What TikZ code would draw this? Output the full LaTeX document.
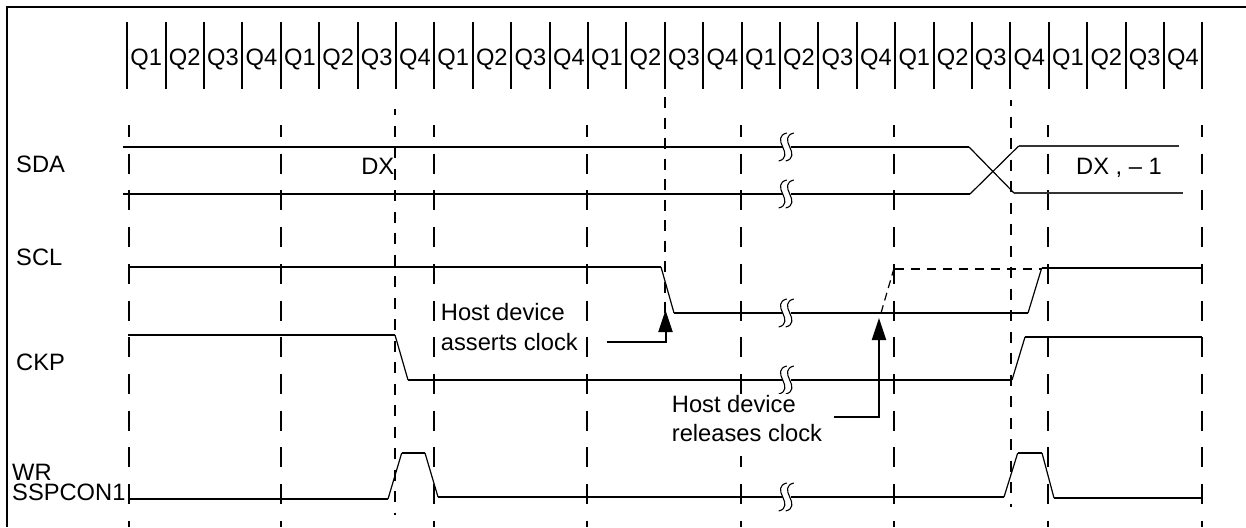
\documentclass[tikz,border=0pt]{standalone}
\usepackage{fontspec}
\setmainfont{Liberation Sans}
\usetikzlibrary{arrows.meta}
\tikzset{
  frameline/.style={line width=2pt},
  tick/.style={line width=1.9pt},
  sig/.style={line width=1.9pt,line join=miter},
  edge/.style={line width=1.2pt},
  thin sig/.style={line width=1.3pt,black!80},
  longdash/.style={line width=1.9pt,dash pattern=on 20pt off 16.7pt},
  shortdash/.style={line width=1.9pt,dash pattern=on 11pt off 10.5pt},
  lbl/.style={inner sep=0pt,anchor=base west,font=\fontsize{23.7}{23.7}\selectfont},
  qlbl/.style={inner sep=0pt,anchor=base,font=\fontsize{23.7}{23.7}\selectfont},
  callout/.style={line width=2pt,-{Triangle[length=22pt,width=14pt]}},
}
\newcommand{\brk}[2]{%
  \fill[white] (#1-4,#2-4) rectangle (#1+4,#2+4);
  \foreach \d in {-3.8,3.2}{
    \draw[line width=1.1pt] (#1+\d+4,#2-14) .. controls (#1+\d-4,#2-12) and (#1+\d-3,#2-6) .. (#1+\d,#2)
      .. controls (#1+\d+3,#2+6) and (#1+\d+4,#2+12) .. (#1+\d-4,#2+14);
  }}
\begin{document}
\begin{tikzpicture}[x=1pt,y=-1pt]
\useasboundingbox (0,0) rectangle (1246,527);
% frame (top and left only)
\draw[frameline] (1246,7) -- (7,7) -- (7,527);
% Q ticks
\foreach \x in {127,166,204,242,281,319,358,396,434,473,511,550,588,626,665,703,742,780,818,857,895,934,972,1010,1049,1087,1126,1164,1202}
  \draw[tick] (\x,22) -- (\x,88.5);
% Q labels
\node[qlbl] (q1)  at (146.2,65.7) {Q1};
\node[qlbl] (q2)  at (184.8,65.7) {Q2};
\node[qlbl] (q3)  at (223,65.7) {Q3};
\node[qlbl] (q4)  at (261.5,65.7) {Q4};
\node[qlbl] (q5)  at (300,65.7) {Q1};
\node[qlbl] (q6)  at (338.3,65.7) {Q2};
\node[qlbl] (q7)  at (376.8,65.7) {Q3};
\node[qlbl] (q8)  at (415,65.7) {Q4};
\node[qlbl] (q9)  at (453.3,65.7) {Q1};
\node[qlbl] (q10) at (491.8,65.7) {Q2};
\node[qlbl] (q11) at (530.5,65.7) {Q3};
\node[qlbl] (q12) at (569,65.7) {Q4};
\node[qlbl] (q13) at (607,65.7) {Q1};
\node[qlbl] (q14) at (645.5,65.7) {Q2};
\node[qlbl] (q15) at (684,65.7) {Q3};
\node[qlbl] (q16) at (722.5,65.7) {Q4};
\node[qlbl] (q17) at (761,65.7) {Q1};
\node[qlbl] (q18) at (799,65.7) {Q2};
\node[qlbl] (q19) at (837.5,65.7) {Q3};
\node[qlbl] (q20) at (876,65.7) {Q4};
\node[qlbl] (q21) at (914.3,65.7) {Q1};
\node[qlbl] (q22) at (952.7,65.7) {Q2};
\node[qlbl] (q23) at (990.7,65.7) {Q3};
\node[qlbl] (q24) at (1029.3,65.7) {Q4};
\node[qlbl] (q25) at (1068,65.7) {Q1};
\node[qlbl] (q26) at (1106.3,65.7) {Q2};
\node[qlbl] (q27) at (1144.7,65.7) {Q3};
\node[qlbl] (q28) at (1183,65.7) {Q4};
% long-dash guides
\foreach \x in {129,281,434,587,741,894,1048,1202}
  \draw[longdash,dash phase=8pt] (\x,125) -- (\x,527);
% short-dash guides
\draw[shortdash,dash phase=5pt] (395,109) -- (395,515);
\draw[shortdash,dash pattern=on 11pt off 9.5pt] (665,97) -- (665,318);
\draw[shortdash,dash phase=5pt] (1011,100) -- (1011,507);
% SDA
\draw[sig] (123,147) -- (969,147);
\draw[edge] (969,147) -- (1014,193);
\draw[sig] (123,194) -- (970,194);
\draw[edge] (970,194) -- (1018.7,146);
\draw[thin sig] (1018.7,146) -- (1178.6,146);
\draw[thin sig] (1014,193) -- (1183,193);
\brk{786.5}{147}
\brk{786.5}{194}
% SCL
\draw[sig] (128,267) -- (661,267);
\draw[edge] (661,267) -- (674,313);
\draw[sig] (674,313) -- (1028,313);
\draw[edge] (1028,313) -- (1041.7,268);
\draw[sig] (1041.7,268) -- (1202,268);
\draw[edge,dash pattern=on 8pt off 5pt] (881,313) -- (893.5,270);
\draw[sig,dash pattern=on 9.5pt off 6.5pt] (894.5,269) -- (1041,269);
\brk{786.5}{313}
% CKP
\draw[sig] (128,335) -- (395,335);
\draw[edge] (395,335) -- (408,380);
\draw[sig] (408,380) -- (1012,380);
\draw[edge] (1012,380) -- (1025,337);
\draw[sig] (1025,337) -- (1202,337);
\brk{786.5}{380}
% WR
\draw[sig] (128,499) -- (388,499);
\draw[edge] (388,499) -- (401.7,453);
\draw[sig] (401.7,453) -- (425,453);
\draw[edge] (425,453) -- (438,497);
\draw[sig] (438,497) -- (1004,497);
\draw[edge] (1004,497) -- (1017.7,453);
\draw[sig] (1017.7,453) -- (1042,453);
\draw[edge] (1042,453) -- (1054,498);
\draw[sig] (1054,498) -- (1202,498);
\brk{786.5}{497}
% signal names
\node[lbl] (sda) at (16,172) {SDA};
\node[lbl] (scl) at (16,265) {SCL};
\node[lbl] (ckp) at (16,370) {CKP};
\node[lbl] (wr) at (12,480) {WR};
\node[lbl] (ssp) at (12,500.7) {SSPCON1};
\node[lbl,anchor=base east] (dx) at (394.5,174) {DX};
\node[lbl] (dx1) at (1076,174) {DX , – 1};
% callouts
\node[lbl] (h1) at (440.7,320.7) {Host device};
\node[lbl] (h1b) at (440.7,350.7) {asserts clock};
\fill[white] (668,394) rectangle (826,456);
\node[lbl] (h2) at (671.7,412.7) {Host device};
\node[lbl] (h2b) at (671.7,441.7) {releases clock};
\coordinate (a1s) at (607,342);
\coordinate (a1c) at (665.5,342);
\coordinate (a1t) at (665.5,310);
\coordinate (a2s) at (834,417);
\coordinate (a2c) at (879,417);
\coordinate (a2t) at (879,318);
\draw[callout] (a1s) -- (a1c) -- (a1t);
\draw[callout] (a2s) -- (a2c) -- (a2t);
\end{tikzpicture}
\end{document}
